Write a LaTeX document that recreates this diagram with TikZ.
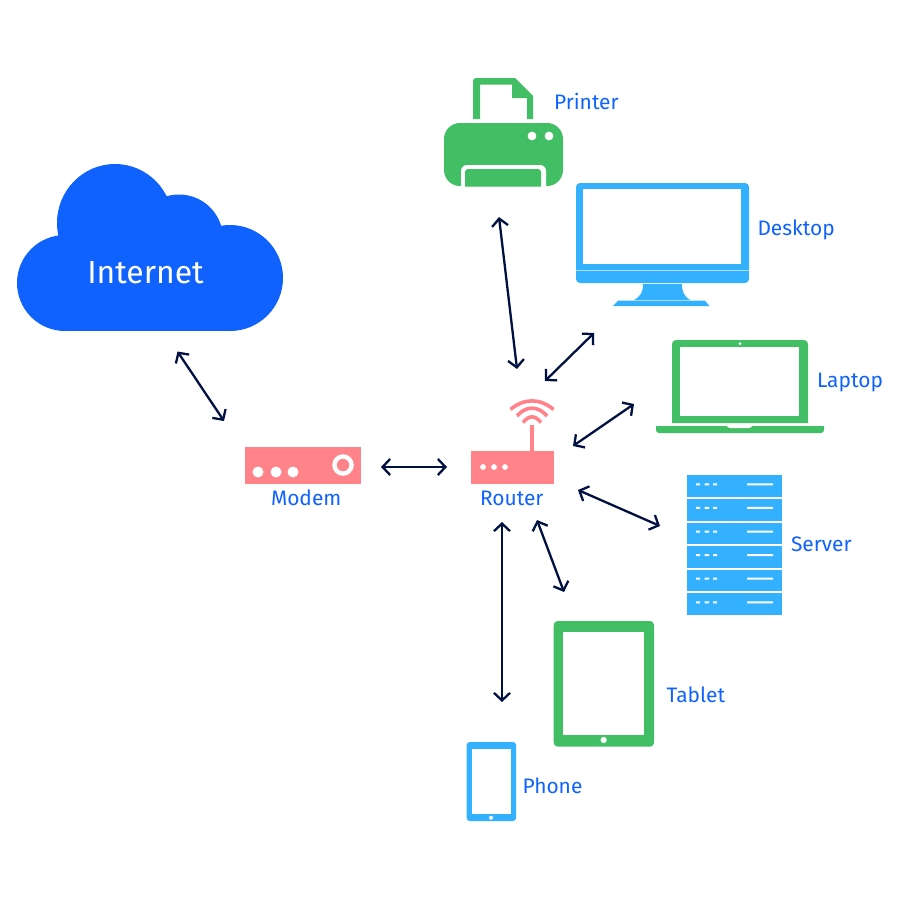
\documentclass[tikz,border=0pt]{standalone}
\usepackage{fontspec}
\setmainfont{Fira Sans}
\usetikzlibrary{arrows.meta}
\definecolor{cloudblue}{HTML}{0F62FE}
\definecolor{skyblue}{HTML}{33B1FF}
\definecolor{devgreen}{HTML}{42BE65}
\definecolor{netpink}{HTML}{FF8389}
\definecolor{navy}{HTML}{001141}
\tikzset{
  link/.style={draw=navy,line width=2.3bp,{Straight Barb[length=7.5bp,width=16bp]}-{Straight Barb[length=7.5bp,width=16bp]}},
  lbl/.style={anchor=base west,inner sep=0pt,outer sep=0pt,text=cloudblue,font=\fontsize{21}{25}\selectfont},
  hole/.style={fill=white,draw=none},
  wave/.style={draw=netpink,line width=3.6bp,line cap=butt}
}
\begin{document}
\begin{tikzpicture}[x=1bp,y=-1bp]
\useasboundingbox (0,0) rectangle (900,900);
% cloud
\fill[cloudblue] (65,283) circle (48);
\fill[cloudblue] (230,278) circle (53);
\fill[cloudblue] (115,223) ellipse [x radius=58,y radius=59];
\fill[cloudblue] (179,238.5) circle (44);
\fill[cloudblue] (65,260) rectangle (230,331);
\node[anchor=base,inner sep=0pt,text=white,font=\fontsize{32}{38}\selectfont] (internet) at (145.5,283) {Internet};
% printer
\fill[devgreen,even odd rule] (473,119) -- (473,82) [rounded corners=3] -- (473,78) [sharp corners] -- (515,78) -- (533,96) -- (533,119) -- (527,119) -- (527,98) -- (512,98) -- (512,84.7) -- (480,84.7) -- (480,119) -- cycle;
\fill[devgreen,rounded corners=16] (444,123) rectangle (563,186);
\fill[hole,rounded corners=6] (461,186.5) -- (461,165) -- (546,165) -- (546,186.5);
\fill[devgreen,rounded corners=3] (465,186.5) -- (465,169) -- (541,169) -- (541,186.5);
\fill[white] (532,136) circle (4.4) (549,136) circle (4.4);
\node[lbl] (printer) at (554,109) {Printer};
% desktop
\fill[skyblue,rounded corners=4] (576,183) rectangle (749,283);
\fill[white] (583,189) rectangle (741,264);
\fill[white!60!skyblue] (576,269.6) rectangle (749,270.6);
\fill[skyblue] (643,284) -- (682,284) .. controls (682,292) and (684,296) .. (690,300) -- (634,300) .. controls (641,296) and (643,292) .. (643,284) -- cycle;
\fill[skyblue] (618,300.7) -- (705,300.7) -- (709.5,306) -- (613,306) -- cycle;
\node[lbl] (desktop) at (757.5,235.5) {Desktop};
% laptop
\fill[devgreen,rounded corners=4] (672,423) -- (672,340) -- (808,340) -- (808,423);
\fill[white] (680,347) rectangle (799,416);
\fill[white] (740,343.7) circle (1.5);
\fill[devgreen,rounded corners=3] (656,426) -- (656,433) -- (824,433) -- (824,426);
\fill[white,rounded corners=1] (726,425.5) -- (729,428) -- (750,428) -- (753,425.5);
\node[lbl] (laptop) at (817,387) {Laptop};
% modem
\fill[netpink] (245,447) rectangle (361,484);
\fill[white] (258,472) circle (5.5) (276,472) circle (5.5) (293,472) circle (5.5);
\fill[white] (343,465) circle (10.8);
\fill[netpink] (343,465) circle (6.2);
\node[lbl] (modem) at (271,505) {Modem};
% router
\fill[netpink] (471,451) rectangle (554,484);
\fill[netpink] (530,425) rectangle (534.3,451);
\fill[white] (483,467) circle (2.9) (494,467) circle (2.9) (505,467) circle (2.9);
\draw[wave] (510.5,409.5) .. controls (524,398) and (540,398) .. (553.5,409.5);
\draw[wave] (517,416) .. controls (526,405.5) and (538,405.5) .. (547,416);
\draw[wave] (523,422.5) .. controls (529,415) and (535,415) .. (541,422.5);
\node[lbl] (router) at (480,505) {Router};
% server
\foreach \t in {475.3,498.9,522.5,546.1,569.7,593.3}{
  \fill[skyblue] (687,\t) rectangle (782,\t+21.7);
  \fill[white] (696,\t+8) rectangle (700,\t+10) (704.5,\t+8) rectangle (709,\t+10) (713,\t+8) rectangle (717,\t+10) (747,\t+8) rectangle (773,\t+10);
}
\node[lbl] (server) at (791,551.5) {Server};
% tablet
\fill[devgreen,rounded corners=4] (553.7,621) rectangle (654,746.7);
\fill[white] (563,632) rectangle (644,735);
\fill[white] (603.7,740) circle (3.1);
\node[lbl] (tablet) at (666.5,702.5) {Tablet};
% phone
\fill[skyblue,rounded corners=3] (466.7,742) rectangle (516,821);
\fill[white] (471.5,749) rectangle (511,814);
\fill[white] (491,817.7) circle (2);
\node[lbl] (phone) at (522.5,793) {Phone};
% connector ends
\coordinate (cloudend) at (177.5,351.5);
\coordinate (modemnw) at (224,421);
\coordinate (modeme) at (381,467);
\coordinate (routerw) at (447,467);
\coordinate (printerend) at (499,217);
\coordinate (routern) at (517,369);
\coordinate (desktopend) at (594,333);
\coordinate (routerne) at (545,381);
\coordinate (laptopend) at (634,404);
\coordinate (routerene) at (573,446);
\coordinate (serverend) at (660,526);
\coordinate (routerese) at (578,490);
\coordinate (tabletend) at (564,592);
\coordinate (routerse) at (537,520);
\coordinate (phoneend) at (502,702);
\coordinate (routers) at (502,522);
\draw[link] (cloudend) -- (modemnw);
\draw[link] (modeme) -- (routerw);
\draw[link] (printerend) -- (routern);
\draw[link] (routerne) -- (desktopend);
\draw[link] (routerene) -- (laptopend);
\draw[link] (routerese) -- (serverend);
\draw[link] (routerse) -- (tabletend);
\draw[link] (routers) -- (phoneend);
\end{tikzpicture}
\end{document}
